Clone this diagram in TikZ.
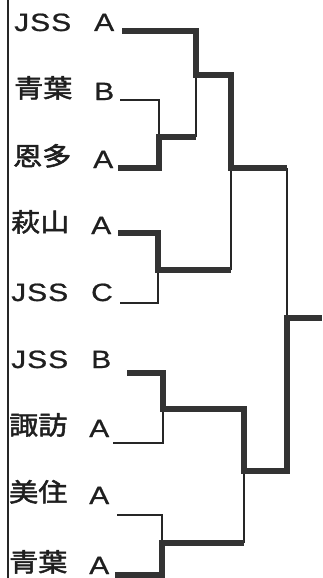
\documentclass[tikz,border=0pt]{standalone}
\usepackage{fontspec}
\setmainfont{Liberation Sans}[FakeStretch=1.2, LetterSpace=4, FakeBold=0.8]
\newfontfamily\cjk{Noto Sans CJK JP}[FakeStretch=1.14, FakeBold=2]
\newcommand{\kj}[1]{\raisebox{2.5pt}{\fontsize{25.5}{25}\cjk #1}}
\newcommand{\tm}[2]{\makebox[80pt][l]{#1}#2}
\begin{document}
\begin{tikzpicture}[x=1pt, y=-1pt]
\tikzset{ win/.style={line width=5.8pt, black!80, line join=miter},
          lose/.style={line width=1.6pt, black!85},
          team/.style={anchor=base west, inner sep=0pt, font=\fontsize{25}{25}\selectfont, text=black!88},
}
\useasboundingbox (0,0) rectangle (322,578);

%\draw [lightgray, dashed](0,0) grid[step=20] (322,578);

\draw [lose] (8,0) -- (8,578);

% teams
\node [team] (JSSA)  at (14,31)  {\tm{JSS}{A}};
\node [team] (AobaB) at (14,100) {\tm{\kj{青葉}}{B}};
\node [team] (OntaA) at (13,168) {\tm{\kj{恩多}}{A}};
\node [team] (HagiA) at (11,234) {\tm{\kj{萩山}}{A}};
\node [team] (JSSC)  at (11,301) {\tm{JSS}{C}};
\node [team] (JSSB)  at (11,368) {\tm{JSS}{B}};
\node [team] (SuwaA) at (9,437)  {\tm{\kj{諏訪}}{A}};
\node [team] (MisuA) at (9,504)  {\tm{\kj{美住}}{A}};
\node [team] (AobaA) at (9,574)  {\tm{\kj{青葉}}{A}};

\coordinate (t1) at (122,31);
\coordinate (t2) at (120,100);
\coordinate (t3) at (118,168);
\coordinate (t4) at (118,233);
\coordinate (t5) at (120,303);
\coordinate (t6) at (127,373);
\coordinate (t7) at (113,443);
\coordinate (t8) at (117,515);
\coordinate (t9) at (115,575);

% junctions
\coordinate (j1) at (159,137);
\coordinate (j2) at (196,75);
\coordinate (j3) at (158,270);
\coordinate (j4) at (231,168);
\coordinate (j5) at (163,409);
\coordinate (j6) at (162,543);
\coordinate (j7) at (244,471);
\coordinate (j8) at (287,318);
\coordinate (w)  at (322,318);

% losers
\draw [lose] (t2) -| (j1);
\draw [lose] (j1 -| j2) -- (j2);
\draw [lose] (t5) -| (j3);
\draw [lose] (j3 -| j4) -- (j4);
\draw [lose] (t7) -| (j5);
\draw [lose] (t8) -| (j6);
\draw [lose] (j6 -| j7) -- (j7);
\draw [lose] (j4 -| j8) -- (j8);

% winners
\draw [win] (t3) -| (j1) -- (j1 -| j2);
\draw [win] (t4) -| (j3) -- (j3 -| j4);
\draw [win] (t9) -| (j6) -- (j6 -| j7);
\draw [win] (t1) -| (j2) -| (j4) -- (j4 -| j8);
\draw [win] (t6) -| (j5) -| (j7) -| (j8) -- (w);
\end{tikzpicture}
\end{document}
